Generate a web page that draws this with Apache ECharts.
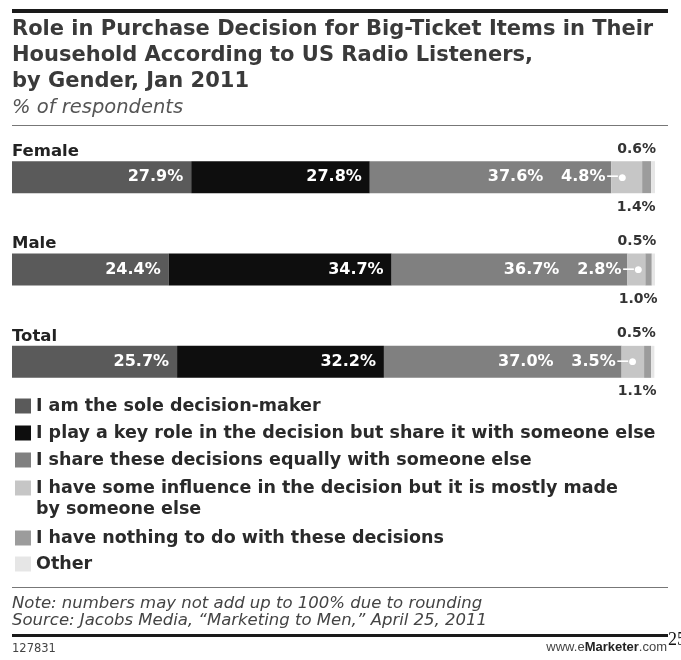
<!DOCTYPE html>
<html>
<head>
<meta charset="utf-8">
<script src="https://cdn.jsdelivr.net/npm/echarts@6/dist/echarts.min.js"></script>
<style>
html,body{margin:0;padding:0;background:#fff;}
#c{width:681px;height:660px;}
</style>
</head>
<body>
<div id="c"></div>
<script>
const categories = ['Female', 'Male', 'Total'];
const seriesNames = [
  'I am the sole decision-maker',
  'I play a key role in the decision but share it with someone else',
  'I share these decisions equally with someone else',
  'I have some influence in the decision but it is mostly made by someone else',
  'I have nothing to do with these decisions',
  'Other'
];
const soleValues = [27.9, 24.4, 25.7];
const keyRoleValues = [27.8, 34.7, 32.2];
const equallyValues = [37.6, 36.7, 37.0];
const influenceValues = [4.8, 2.8, 3.5];
const nothingValues = [1.4, 1.0, 1.1];
const otherValues = [0.6, 0.5, 0.5];

const colors = ['#5a5a5a', '#0e0e0e', '#808080', '#c6c6c6', '#9c9c9c', '#e6e6e6'];
const FONT = 'DejaVu Sans';
const pct = p => p.value.toFixed(1) + '%';

const chart = echarts.init(document.getElementById('c'), null, {renderer: 'canvas'});

const insideLabel = (dist) => ({
  show: true, position: 'insideRight', distance: dist, color: '#fff',
  fontFamily: FONT, fontWeight: 'bold', fontSize: 16, formatter: pct
});

const dataSets = [soleValues, keyRoleValues, equallyValues, influenceValues, nothingValues, otherValues];

const series = dataSets.map((vals, i) => {
  const s = {
    name: seriesNames[i], type: 'bar', stack: 'all', data: vals,
    barWidth: 32, itemStyle: {color: colors[i]}, emphasis: {disabled: true},
    label: {show: false}
  };
  if (i < 2) s.label = insideLabel(8);
  if (i === 2) s.label = insideLabel(68);
  if (i === 3) s.label = {
    show: true, position: 'left', distance: -15,
    formatter: p => '{v|' + p.value.toFixed(1) + '%}{l|—}{d|●}',
    rich: {
      v: {color: '#fff', fontFamily: FONT, fontWeight: 'bold', fontSize: 16},
      l: {color: '#fff', fontFamily: FONT, fontWeight: 'bold', fontSize: 12, padding: [0, 0, 0, 1]},
      d: {color: '#fff', fontFamily: FONT, fontSize: 9}
    }
  };
  if (i === 4) s.label = {
    show: true, position: 'bottom', distance: 7, offset: [9, 0], align: 'right', color: '#333',
    fontFamily: FONT, fontWeight: 'bold', fontSize: 14, formatter: pct
  };
  if (i === 5) s.label = {
    show: true, position: 'top', distance: 5, offset: [3, 0], align: 'right', color: '#333',
    fontFamily: FONT, fontWeight: 'bold', fontSize: 14, formatter: pct
  };
  return s;
});

const legendText = {color: '#2a2a2a', fontFamily: FONT, fontWeight: 'bold', fontSize: 17.5};

const option = {
  animation: false,
  grid: {left: 12, right: 26, top: 131, height: 277, containLabel: false},
  xAxis: {type: 'value', min: 0, max: 100.1, show: false},
  yAxis: {
    type: 'category', data: categories, inverse: true,
    axisLine: {show: false}, axisTick: {show: false}, splitLine: {show: false},
    axisLabel: {
      inside: true, margin: 0, verticalAlign: 'bottom', padding: [0, 0, 17, 0],
      color: '#222', fontFamily: FONT, fontWeight: 'bold', fontSize: 16.5
    }
  },
  legend: [
    {
      data: seriesNames.slice(0, 3), orient: 'vertical', left: 15, top: 392.5, padding: 0,
      itemGap: 0, itemWidth: 16, itemHeight: 15, icon: 'rect',
      textStyle: Object.assign({lineHeight: 27}, legendText), selectedMode: false
    },
    {
      data: [seriesNames[3]], orient: 'vertical', left: 15, top: 456.5, padding: 0,
      itemGap: 0, itemWidth: 16, itemHeight: 15, icon: 'rect',
      formatter: () => '\nI have some influence in the decision but it is mostly made\nby someone else',
      textStyle: Object.assign({lineHeight: 21}, legendText), selectedMode: false
    },
    {
      data: seriesNames.slice(4), orient: 'vertical', left: 15, top: 525, padding: 0,
      itemGap: 0, itemWidth: 16, itemHeight: 15, icon: 'rect',
      textStyle: Object.assign({lineHeight: 26}, legendText), selectedMode: false
    }
  ],
  graphic: [
    {type: 'rect', shape: {x: 12, y: 9, width: 656, height: 4}, style: {fill: '#1a1a1a'}},
    {type: 'text', left: 12, top: 17, style: {
      text: 'Role in Purchase Decision for Big-Ticket Items in Their\nHousehold According to US Radio Listeners,\nby Gender, Jan 2011',
      fill: '#3a3a3a', font: 'bold 21px "DejaVu Sans"', lineHeight: 26
    }},
    {type: 'text', left: 12, top: 98, style: {
      text: '% of respondents', fill: '#555', font: 'italic 19.5px "DejaVu Sans"'
    }},
    {type: 'rect', shape: {x: 12, y: 125, width: 656, height: 1}, style: {fill: '#777'}},
    {type: 'rect', shape: {x: 12, y: 587, width: 656, height: 1}, style: {fill: '#777'}},
    {type: 'text', left: 12, top: 595, style: {
      text: 'Note: numbers may not add up to 100% due to rounding\nSource: Jacobs Media, \u201CMarketing to Men,\u201D April 25, 2011',
      fill: '#444', font: 'italic 16.5px "DejaVu Sans"', lineHeight: 17
    }},
    {type: 'rect', shape: {x: 12, y: 634, width: 656, height: 3}, style: {fill: '#1a1a1a'}},
    {type: 'text', left: 12, top: 643, style: {
      text: '127831', fill: '#444', font: '11.5px "DejaVu Sans"'
    }},
    {type: 'text', right: 14, top: 641, style: {
      text: '{a|www.e}{b|Marketer}{a|.com}',
      rich: {
        a: {fill: '#444', font: '13px "Liberation Sans"'},
        b: {fill: '#222', font: 'bold 13px "Liberation Sans"'}
      }
    }},
    {type: 'text', left: 668, top: 631, style: {
      text: '25', fill: '#111', font: '18px "Liberation Serif"'
    }}
  ],
  series: series
};
chart.setOption(option);
</script>
</body>
</html>
